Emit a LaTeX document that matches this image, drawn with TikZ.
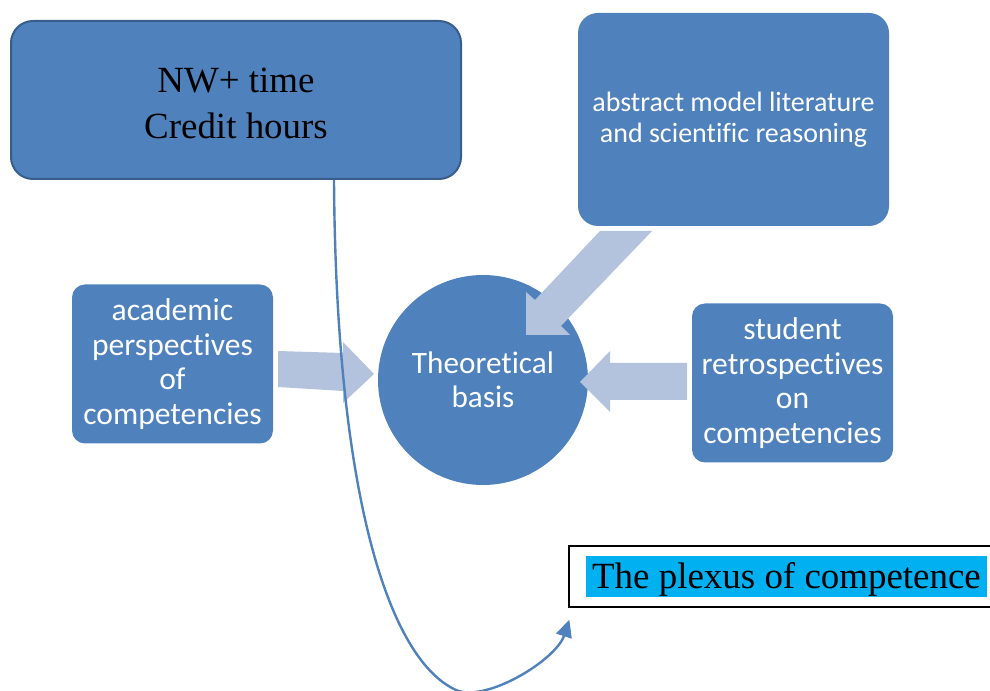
\documentclass[tikz,border=0pt]{standalone}
\usepackage{fontspec}
\setmainfont{Liberation Serif}
\newfontfamily\calib[Ligatures=NoCommon]{Carlito}
\usetikzlibrary{arrows.meta}
\definecolor{mainblue}{HTML}{4F81BD}
\definecolor{darkblue}{HTML}{385D8A}
\definecolor{lightblue}{HTML}{B3C2DD}
\definecolor{hicyan}{HTML}{00B0F0}
\tikzset{
  bluebox/.style={rectangle, fill=mainblue, text=white, align=center, inner sep=0pt, font=\calib},
  blockarrow/.style={fill=lightblue, draw=none},
  conn/.style={draw=mainblue, line width=1.8pt, -{Triangle[length=13pt,width=12pt]}},
}
\begin{document}
\begin{tikzpicture}[x=0.75pt,y=-0.75pt]
\useasboundingbox (0,0) rectangle (990,691);

% top-left box
\node[bluebox, draw=darkblue, line width=1.5pt, rounded corners=16.5pt,
      minimum width=337.5pt, minimum height=118.5pt, text=black,
      font=\fontsize{27.7}{34.5}\selectfont] (nw) at (236,100) {};
\node[align=center, inner sep=0pt, font=\fontsize{27.7}{34.5}\selectfont] (nwtext) at (236,103)
      {NW+ time\\Credit hours};

% top-right box
\node[bluebox, rounded corners=15pt, minimum width=233.25pt, minimum height=159.75pt,
      font=\calib\fontsize{21}{23.3}\selectfont] (abs) at (733.5,119.5)
      {abstract model literature\\and scientific reasoning};

% left box
\node[bluebox, rounded corners=9.75pt, minimum width=150.75pt, minimum height=119.25pt,
      font=\calib\fontsize{23.7}{25.9}\selectfont] (acad) at (172.5,364)
      {academic\\perspectives\\of\\competencies};

% right box
\node[bluebox, rounded corners=9.75pt, minimum width=150.75pt, minimum height=119.25pt,
      font=\calib\fontsize{23.7}{25.9}\selectfont] (stud) at (792.5,383)
      {student\\retrospectives\\on\\competencies};

% circle
\node[circle, fill=mainblue, text=white, align=center, inner sep=0pt, minimum size=157.5pt,
      font=\calib\fontsize{23.4}{25.5}\selectfont] (theo) at (483,380) {Theoretical\\basis};

% block arrows
\fill[blockarrow] (278,351) -- (343,353) -- (343,342) -- (374,374) -- (343,403) -- (343,391) -- (278,387) -- cycle;
\fill[blockarrow] (687,363) -- (610,363) -- (610,351) -- (580,382) -- (610,412) -- (610,400) -- (687,400) -- cycle;
\fill[blockarrow] (600,231) -- (652,231) -- (561,326) -- (570,335) -- (526,335) -- (526,292) -- (535,300) -- cycle;

% plexus box
\node[draw=black, line width=1pt, fill=white, minimum width=323.25pt, minimum height=45.75pt, inner sep=0pt]
      (plexus) at (784.5,576.5) {};
\node[fill=hicyan, inner sep=0pt, text height=24.7pt, text depth=6pt, minimum width=300.75pt,
      font=\fontsize{27.7}{33}\selectfont] (plexustxt) at (786.5,576.5) {The plexus of competence};

% curved connector
\draw[conn] ([xshift=73.5pt]nw.south) .. controls (336,500) and (390,660) .. (456,690)
            .. controls (486,703) and (556,660) .. ([shift={(1,12)}]plexus.south west);
\end{tikzpicture}
\end{document}
